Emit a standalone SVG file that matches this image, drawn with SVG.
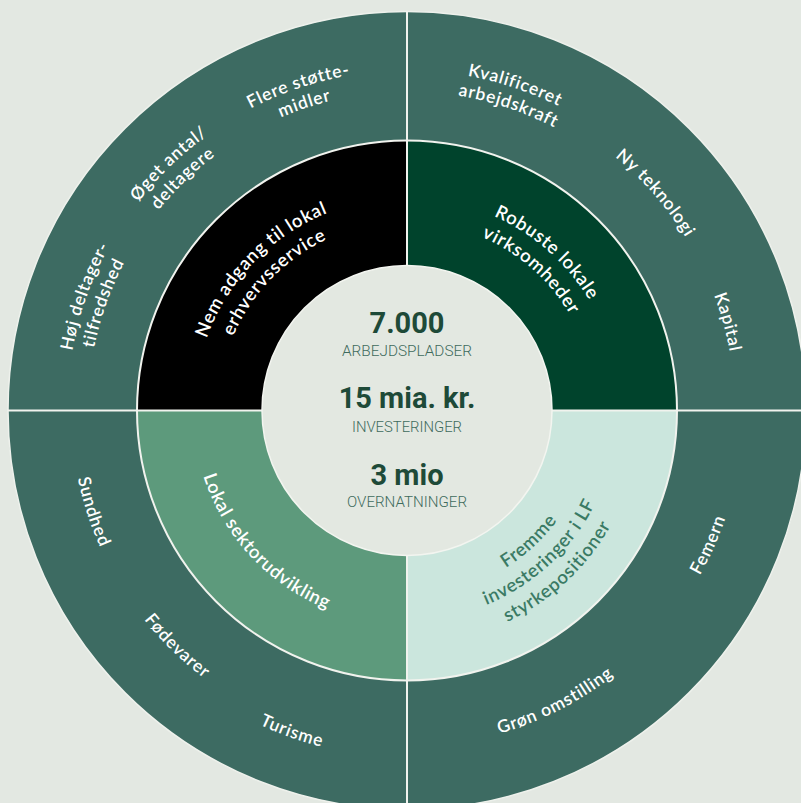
<svg xmlns="http://www.w3.org/2000/svg" xmlns:xlink="http://www.w3.org/1999/xlink" width="801" height="803" viewBox="0 0 801 803">
<style>
.bg{fill:#e3e8e2}
.outer{fill:#3d6b62}
.lbl{font-family:Lato,"Noto Sans",sans-serif;font-weight:600;font-size:17.5px;letter-spacing:0.8px;fill:#ffffff}
.inl{font-family:Lato,"Noto Sans",sans-serif;font-weight:600;font-size:18.5px;letter-spacing:0.7px;fill:#ffffff}
.mint{fill:#3a7a64}
.big{font-family:Roboto,"Liberation Sans",sans-serif;font-weight:700;font-size:29px;fill:#1e4a38;text-anchor:middle}
.small{font-family:Roboto,"Liberation Sans",sans-serif;font-weight:300;font-size:15px;fill:#3f6b5d;text-anchor:middle}
.div{stroke:#f1f3ee;stroke-width:2;fill:none}
</style>
<defs>
<path id="t340" d="M 72.16 351.46 A 340 340 0 0 1 741.84 351.46"/>
<path id="t319" d="M 92.85 355.11 A 319 319 0 0 1 721.15 355.11"/>
<path id="t328" d="M 83.98 353.54 A 328 328 0 0 1 730.02 353.54"/>
<path id="t213" d="M 197.24 373.51 A 213 213 0 0 1 616.76 373.51"/>
<path id="t189" d="M 220.87 377.68 A 189 189 0 0 1 593.13 377.68"/>
<path id="b336" d="M 76.10 468.85 A 336 336 0 0 0 737.90 468.85"/>
<path id="b347" d="M 65.27 470.76 A 347 347 0 0 0 748.73 470.76"/>
<path id="b214" d="M 196.25 447.66 A 214 214 0 0 0 617.75 447.66"/>
<path id="b186" d="M 223.83 442.80 A 186 186 0 0 0 590.17 442.80"/>
<path id="b210" d="M 200.19 446.97 A 210 210 0 0 0 613.81 446.97"/>
<path id="b234" d="M 176.55 451.13 A 234 234 0 0 0 637.45 451.13"/>
</defs>
<rect class="bg" x="0" y="0" width="801" height="803"/>

<g id="outer-ring">
<circle cx="407" cy="410.5" r="399" class="outer" stroke="#eef1ec" stroke-width="1.5"/>
</g>

<g id="q-nem-adgang">
<path d="M 407 410.5 L 137 410.5 A 270 270 0 0 1 407 140.5 Z" fill="#000000"/>
</g>
<g id="q-robuste">
<path d="M 407 410.5 L 407 140.5 A 270 270 0 0 1 677 410.5 Z" fill="#00432c"/>
</g>
<g id="q-fremme">
<path d="M 407 410.5 L 677 410.5 A 270 270 0 0 1 407 680.5 Z" fill="#cbe6dd"/>
</g>
<g id="q-lokal">
<path d="M 407 410.5 L 407 680.5 A 270 270 0 0 1 137 410.5 Z" fill="#5d9a7c"/>
</g>

<g id="connectors">
<line class="div" x1="407" y1="11" x2="407" y2="810"/>
<line class="div" x1="8" y1="410.5" x2="806" y2="410.5"/>
<circle class="div" cx="407" cy="410.5" r="270" stroke-width="3.5"/>
</g>

<g id="center">
<circle cx="407" cy="410.5" r="145" fill="#e3e8e1" stroke="#f3f5f0" stroke-width="1.5"/>
<text class="big" x="407" y="333">7.000</text>
<text class="small" x="407" y="356" textLength="130" lengthAdjust="spacingAndGlyphs">ARBEJDSPLADSER</text>
<text class="big" x="407" y="408">15 mia. kr.</text>
<text class="small" x="407" y="432" textLength="110" lengthAdjust="spacingAndGlyphs">INVESTERINGER</text>
<text class="big" x="407" y="485">3 mio</text>
<text class="small" x="407" y="507" textLength="120" lengthAdjust="spacingAndGlyphs">OVERNATNINGER</text>
</g>

<g id="n-flere">
<text class="lbl" transform="rotate(-18.5 407 410.5)"><textPath xlink:href="#t340" href="#t340" startOffset="50%" text-anchor="middle">Flere støtte-</textPath></text>
<text class="lbl" transform="rotate(-18.5 407 410.5)"><textPath xlink:href="#t319" href="#t319" startOffset="50%" text-anchor="middle">midler</textPath></text>
</g>
<g id="n-oget">
<text class="lbl" transform="rotate(-44 407 410.5)"><textPath xlink:href="#t340" href="#t340" startOffset="50%" text-anchor="middle">Øget antal/</textPath></text>
<text class="lbl" transform="rotate(-44 407 410.5)"><textPath xlink:href="#t319" href="#t319" startOffset="50%" text-anchor="middle">deltagere</textPath></text>
</g>
<g id="n-hoj">
<text class="lbl" transform="rotate(-70.5 407 410.5)"><textPath xlink:href="#t340" href="#t340" startOffset="50%" text-anchor="middle">Høj deltager-</textPath></text>
<text class="lbl" transform="rotate(-70.5 407 410.5)"><textPath xlink:href="#t319" href="#t319" startOffset="50%" text-anchor="middle">tilfredshed</textPath></text>
</g>
<g id="n-kvalificeret">
<text class="lbl" transform="rotate(18.4 407 410.5)"><textPath xlink:href="#t340" href="#t340" startOffset="50%" text-anchor="middle">Kvalificeret</textPath></text>
<text class="lbl" transform="rotate(18.4 407 410.5)"><textPath xlink:href="#t319" href="#t319" startOffset="50%" text-anchor="middle">arbejdskraft</textPath></text>
</g>
<g id="n-ny-teknologi">
<text class="lbl" transform="rotate(48.8 407 410.5)"><textPath xlink:href="#t328" href="#t328" startOffset="50%" text-anchor="middle">Ny teknologi</textPath></text>
</g>
<g id="n-kapital">
<text class="lbl" transform="rotate(74.6 407 410.5)"><textPath xlink:href="#t328" href="#t328" startOffset="50%" text-anchor="middle">Kapital</textPath></text>
</g>
<g id="n-sundhed">
<text class="lbl" transform="rotate(72.1 407 410.5)"><textPath xlink:href="#b336" href="#b336" startOffset="50%" text-anchor="middle">Sundhed</textPath></text>
</g>
<g id="n-fodevarer">
<text class="lbl" transform="rotate(44.3 407 410.5)"><textPath xlink:href="#b336" href="#b336" startOffset="50%" text-anchor="middle">Fødevarer</textPath></text>
</g>
<g id="n-turisme">
<text class="lbl" transform="rotate(19.7 407 410.5)"><textPath xlink:href="#b347" href="#b347" startOffset="50%" text-anchor="middle">Turisme</textPath></text>
</g>
<g id="n-gron">
<text class="lbl" transform="rotate(-27 407 410.5)"><textPath xlink:href="#b336" href="#b336" startOffset="50%" text-anchor="middle">Grøn omstilling</textPath></text>
</g>
<g id="n-femern">
<text class="lbl" transform="rotate(-66 407 410.5)"><textPath xlink:href="#b336" href="#b336" startOffset="50%" text-anchor="middle">Femern</textPath></text>
</g>

<g id="n-nem-adgang-text">
<text class="inl" transform="rotate(-46 407 410.5)"><textPath xlink:href="#t213" href="#t213" startOffset="50%" text-anchor="middle">Nem adgang til lokal</textPath></text>
<text class="inl" transform="rotate(-46 407 410.5)"><textPath xlink:href="#t189" href="#t189" startOffset="50%" text-anchor="middle">erhvervsservice</textPath></text>
</g>
<g id="n-robuste-text">
<text class="inl" transform="rotate(41.5 407 410.5)"><textPath xlink:href="#t213" href="#t213" startOffset="50%" text-anchor="middle">Robuste lokale</textPath></text>
<text class="inl" transform="rotate(41.5 407 410.5)"><textPath xlink:href="#t189" href="#t189" startOffset="50%" text-anchor="middle">virksomheder</textPath></text>
</g>
<g id="n-lokal-text">
<text class="inl" transform="rotate(47 407 410.5)"><textPath xlink:href="#b214" href="#b214" startOffset="50%" text-anchor="middle">Lokal sektorudvikling</textPath></text>
</g>
<g id="n-fremme-text">
<text class="inl mint" transform="rotate(-43 407 410.5)"><textPath xlink:href="#b186" href="#b186" startOffset="50%" text-anchor="middle">Fremme</textPath></text>
<text class="inl mint" transform="rotate(-43 407 410.5)"><textPath xlink:href="#b210" href="#b210" startOffset="50%" text-anchor="middle">investeringer i LF</textPath></text>
<text class="inl mint" transform="rotate(-43 407 410.5)"><textPath xlink:href="#b234" href="#b234" startOffset="50%" text-anchor="middle">styrkepositioner</textPath></text>
</g>
</svg>
